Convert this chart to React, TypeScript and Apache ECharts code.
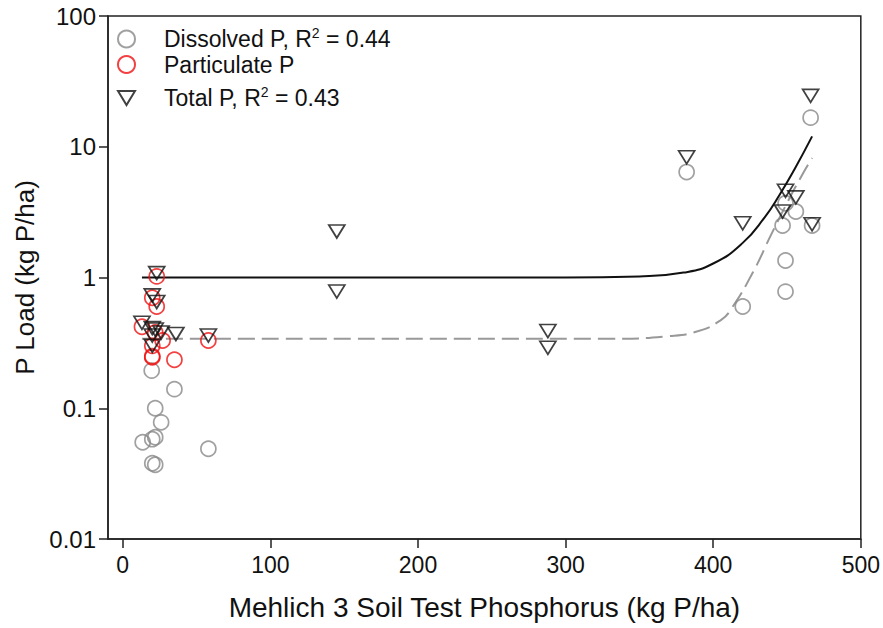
import React, { useEffect, useRef } from "react";
import * as echarts from "echarts";

const dissolvedP: number[][] = [
  [13.5, 0.055], [19.6, 0.194], [35, 0.14], [22, 0.1], [26, 0.078], [20, 0.058],
  [22, 0.06], [20, 0.038], [22, 0.037], [58, 0.049], [382, 6.4], [420, 0.6],
  [447, 2.5], [449, 3.7], [456, 3.2], [449, 1.35], [449, 0.78], [466, 16.7], [467, 2.5],
];
const particulateP: number[][] = [
  [13, 0.42], [23, 1.02], [20, 0.7], [23, 0.6], [27, 0.33], [20, 0.3], [20, 0.25],
  [20, 0.245], [35, 0.235], [58, 0.33], [22, 0.38],
];
const totalP: number[][] = [
  [13, 0.45], [23, 1.08], [20, 0.73], [23, 0.65], [20, 0.41], [22, 0.4], [26, 0.38],
  [36, 0.37], [20, 0.3], [20, 0.36], [58, 0.36], [145, 2.25], [145, 0.78], [288, 0.39],
  [288, 0.29], [382, 8.3], [420, 2.6], [449, 4.6], [456, 4.1], [447, 3.2], [467, 2.55],
  [466, 24.5],
];
const totalFit: number[][] = [
  [13, 1.0], [300, 1.0], [350, 1.02], [380, 1.09], [400, 1.28], [420, 1.84],
  [435, 2.9], [445, 4.3], [455, 6.7], [467, 12],
];
const dissolvedFit: number[][] = [
  [13, 0.34], [330, 0.34], [370, 0.356], [390, 0.39], [405, 0.47], [412, 0.57],
  [427, 1.1], [439, 2.1], [451, 3.9], [461, 6.3], [467, 8.2],
];
const xTicks = [0, 100, 200, 300, 400, 500];
const yTickLabels = ["0.01", "0.1", "1", "10", "100"];
const legendNames = ["Dissolved P", "Particulate P", "Total P"];
const legendLabels = ["Dissolved P, R{sup|2} = 0.44", "Particulate P", "Total P, R{sup|2} = 0.43"];

const FONT = "Liberation Sans, Arial, sans-serif";
const TRI = "path://M0,0 L12,0 L6,10 Z";
const legendTops = [21, 48, 80];

export default function App() {
  const ref = useRef<HTMLDivElement>(null);
  useEffect(() => {
    const chart = echarts.init(ref.current!, null, { renderer: "svg" });
    chart.setOption({
      animation: false,
      backgroundColor: "#fff",
      grid: {
        left: 108, top: 16, right: 20, bottom: 89,
        show: true, borderColor: "#222", borderWidth: 1.5,
      },
      legend: legendNames.map((n, i) => ({
        orient: "vertical",
        left: 112,
        top: legendTops[i],
        itemWidth: 17,
        itemHeight: 17,
        data: [n],
        formatter: () => legendLabels[i],
        textStyle: {
          fontFamily: FONT,
          fontSize: 23,
          color: "#111",
          padding: [0, 0, 0, 24],
          rich: {
            sup: { fontSize: 14, fontFamily: FONT, color: "#111", verticalAlign: "top", padding: [0, 0, 12, 0] },
          },
        },
      })),
      xAxis: {
        type: "value",
        min: -10,
        max: 500,
        splitLine: { show: false },
        axisLine: { show: true, onZero: false, lineStyle: { color: "#222", width: 1.5 } },
        axisTick: { show: true, customValues: xTicks, length: 9, lineStyle: { color: "#222", width: 1.5 } },
        axisLabel: {
          customValues: xTicks,
          fontFamily: FONT, fontSize: 23, color: "#111", margin: 14,
        },
        name: "Mehlich 3 Soil Test Phosphorus (kg P/ha)",
        nameLocation: "middle",
        nameGap: 54,
        nameTextStyle: { fontFamily: FONT, fontSize: 28, color: "#111" },
      },
      yAxis: {
        type: "log",
        logBase: 10,
        min: 0.01,
        max: 100,
        splitLine: { show: false },
        axisLine: { show: true, onZero: false, lineStyle: { color: "#222", width: 1.5 } },
        axisTick: { show: true, length: 9, lineStyle: { color: "#222", width: 1.5 } },
        minorTick: { show: false },
        axisLabel: {
          fontFamily: FONT, fontSize: 24, color: "#111", margin: 12,
          formatter: (v: number) => {
            const i = Math.round(Math.log10(v)) + 2;
            return yTickLabels[i] ?? String(v);
          },
        },
        name: "P Load (kg P/ha)",
        nameLocation: "middle",
        nameGap: 67,
        nameTextStyle: { fontFamily: FONT, fontSize: 26, color: "#111" },
      },
      series: [
        {
          name: "Total P fit",
          type: "line",
          data: totalFit,
          smooth: true,
          showSymbol: false,
          symbol: "none",
          lineStyle: { color: "#111", width: 2 },
          z: 1,
        },
        {
          name: "Dissolved P fit",
          type: "line",
          data: dissolvedFit,
          smooth: true,
          showSymbol: false,
          symbol: "none",
          lineStyle: { color: "#999", width: 2, type: [17, 7] },
          z: 1,
        },
        {
          name: "Dissolved P",
          type: "scatter",
          data: dissolvedP,
          symbol: "circle",
          symbolSize: 15,
          itemStyle: { color: "rgba(255,255,255,0)", borderColor: "#888", borderWidth: 1.7 },
          z: 2,
        },
        {
          name: "Particulate P",
          type: "scatter",
          data: particulateP,
          symbol: "circle",
          symbolSize: 15,
          itemStyle: { color: "rgba(255,255,255,0)", borderColor: "#f01010", borderWidth: 1.7 },
          z: 3,
        },
        {
          name: "Total P",
          type: "scatter",
          data: totalP,
          symbol: TRI,
          symbolSize: [16, 13],
          itemStyle: { color: "rgba(255,255,255,0)", borderColor: "#111", borderWidth: 1.7 },
          z: 4,
        },
      ],
    });
    return () => chart.dispose();
  }, []);
  return <div ref={ref} style={{ width: 883, height: 628, position: "absolute", left: 0, top: 0 }} />;
}
